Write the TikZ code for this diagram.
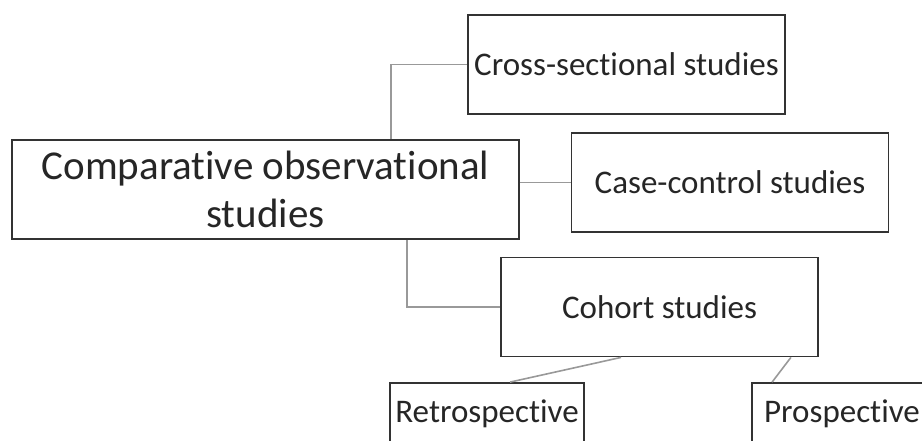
\documentclass[tikz,border=0pt]{standalone}
\usepackage{fontspec}
\setmainfont[Ligatures=NoCommon]{Carlito}
\usetikzlibrary{calc}
\begin{document}
\begin{tikzpicture}[x=1pt,y=-1pt,
  box/.style={draw=black!80, line width=1.8pt, fill=white, rectangle, inner sep=0pt, align=center, text=black!85},
  small/.style={font=\fontsize{33}{38}\selectfont},
  link/.style={draw=black!40, line width=1.6pt}]
\useasboundingbox (0,0) rectangle (922,441);
\clip (0,0) rectangle (922,441);
\node[box, small, minimum width=317pt, minimum height=99pt] (cross) at (626.5,64.5) {Cross-sectional studies};
\node[box, minimum width=507pt, minimum height=99pt, font=\fontsize{41}{48}\selectfont] (main) at (265.5,189.5) {Comparative observational\\studies};
\node[box, small, minimum width=317pt, minimum height=99pt] (case) at (730,182.5) {Case-control studies};
\node[box, small, minimum width=317pt, minimum height=99pt] (cohort) at (659.5,307) {Cohort studies};
\node[box, small, minimum width=194pt, minimum height=62pt] (retro) at (487,414) {Retrospective};
\node[box, small, minimum width=180pt, minimum height=62pt] (prosp) at (842,414) {Prospective};
\draw[link] ($(main.north west)+(380,0)$) |- (cross.west);
\draw[link] (main.east |- case.west) -- (case.west);
\draw[link] ($(main.south west)+(396,0)$) |- (cohort.west);
\draw[link] ($(cohort.south west)+(121,0)$) -- ($(retro.north west)+(121,0)$);
\draw[link] ($(cohort.south east)+(-28,0)$) -- ($(prosp.north west)+(21,0)$);
\end{tikzpicture}
\end{document}
